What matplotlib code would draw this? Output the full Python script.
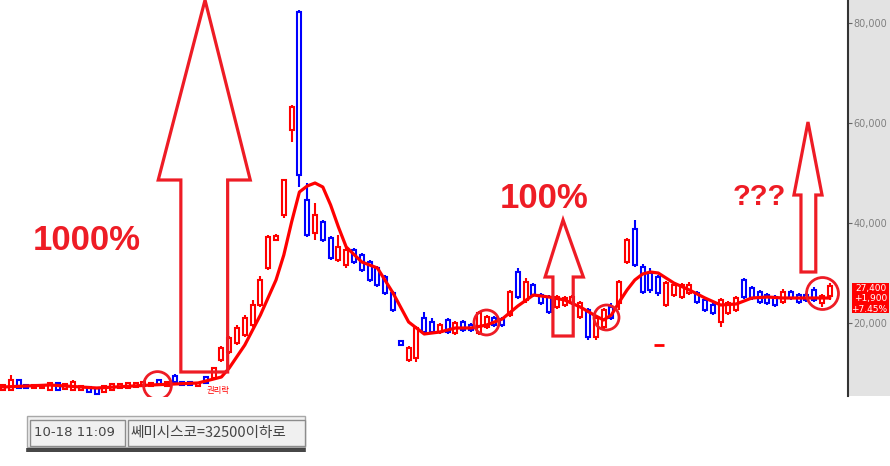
import matplotlib.pyplot as plt
from matplotlib.patches import Polygon, Rectangle

# daily candles (price in won), index = trading day
opens = [6600, 6600, 8600, 7600, 7000, 7000, 6600, 8000, 6800, 6600,
         6600, 7200, 7000, 6200, 6600, 7000, 7000, 7200, 7400, 7400,
         8600, 7400, 9400, 8200, 8200, 7400, 9200, 9000, 12600, 14200,
         16000, 17600, 19600, 23600, 31000, 36600, 41600, 58600, 82200, 44600,
         38000, 40200, 37000, 32600, 31600, 34600, 33600, 32200, 31000, 29200,
         26000, 16400, 12600, 13000, 21000, 20200, 18200, 20600, 18000, 20200,
         19600, 18000, 19200, 21000, 20800, 21600, 30200, 24600, 27600, 25600,
         25200, 23200, 23600, 24000, 21200, 22600, 17200, 19200, 23200, 24000,
         32200, 38800, 31200, 30000, 29200, 23600, 25600, 25200, 26000, 26000,
         24600, 23600, 20200, 22000, 22600, 28600, 27000, 26200, 25600, 25200,
         24200, 26200, 25600, 25600, 26600, 24000, 25500]
closes = [7600, 8600, 7000, 7000, 7600, 7400, 8000, 6600, 7800, 8200,
          7400, 6200, 5800, 7400, 7800, 7800, 8000, 8000, 8200, 8000,
          7800, 8200, 8200, 7600, 7600, 8000, 8000, 11000, 15000, 17000,
          19000, 21000, 23600, 28600, 37200, 37400, 48600, 63200, 49600, 37600,
          41600, 36600, 33000, 35200, 34600, 32200, 30600, 28600, 27600, 26000,
          22600, 15600, 15000, 19000, 18200, 18200, 19600, 18200, 20000, 18600,
          18600, 22000, 21200, 19600, 19600, 26200, 25200, 28200, 25600, 24000,
          22200, 25200, 25000, 25200, 24000, 17200, 21000, 22600, 21000, 28200,
          36600, 31600, 26200, 26600, 26000, 28000, 27600, 27600, 27600, 24200,
          22600, 22000, 24600, 24000, 25000, 25200, 25000, 24200, 24000, 23600,
          26200, 25000, 24200, 24600, 24600, 25500, 27400]
highs = [7800, 9600, 8800, 7800, 7800, 7600, 8200, 8200, 8000, 8600,
         7600, 7400, 7200, 7600, 8000, 8000, 8200, 8200, 8400, 8200,
         8800, 8400, 9800, 8400, 8400, 8200, 9400, 11200, 15400, 17400,
         19600, 21600, 24600, 29400, 37600, 37800, 48800, 63600, 82600, 48000,
         44000, 40600, 37400, 37600, 35000, 35000, 34000, 32600, 31400, 29600,
         26400, 16600, 15400, 19400, 22200, 21000, 20000, 21000, 20400, 20600,
         20000, 22400, 21600, 21400, 21200, 26600, 31000, 29000, 28000, 26000,
         25600, 25600, 25400, 25600, 24400, 23000, 21400, 23000, 24000, 28600,
         37000, 40600, 31800, 31000, 29600, 28400, 28000, 28000, 28200, 26400,
         25000, 24000, 25000, 24400, 25400, 29000, 27400, 26600, 26000, 25600,
         26800, 26600, 26000, 26000, 27200, 25800, 28000]
lows = [6400, 6400, 6800, 6800, 6800, 6800, 6400, 6400, 6600, 6400,
        6400, 6000, 5600, 6000, 6400, 6800, 6800, 7000, 7200, 7200,
        7600, 7200, 8000, 7400, 7400, 7200, 7800, 8800, 12200, 13800,
        15600, 17200, 19200, 23200, 30600, 36400, 41000, 56200, 47200, 37200,
        36600, 36200, 32600, 32200, 31000, 31800, 30200, 28200, 27200, 25600,
        22200, 15400, 12200, 12200, 17800, 17800, 17800, 17800, 17600, 18200,
        18200, 17600, 18800, 19200, 19200, 21200, 24800, 24000, 25200, 23600,
        21800, 22800, 23200, 23600, 20800, 16600, 16600, 18800, 20600, 22600,
        31800, 31200, 25800, 26000, 25400, 23200, 25200, 24800, 25600, 23800,
        22200, 21600, 19200, 21600, 22200, 24800, 24600, 23800, 23600, 23200,
        23800, 24600, 23800, 24200, 24200, 23200, 24600]

# moving average (index, price)
ma_idx = [0, 6, 12, 19, 25, 28, 29, 31, 33, 35, 36, 37, 38, 39, 40, 41, 42, 43, 44,
          46, 48, 50, 52, 54, 56, 58, 60, 62, 64, 66, 68, 70, 72, 74, 76, 77, 78,
          79, 80, 81, 82, 83, 84, 85, 86, 88, 90, 92, 94, 96, 98, 100, 103, 106]
ma_val = [7200, 7600, 7000, 7600, 8000, 9200, 11000, 15600, 21600, 28600, 33600,
          40200, 46200, 47400, 48000, 47200, 43600, 39200, 35200, 32200, 31000,
          26000, 20200, 17800, 18200, 19000, 19000, 19600, 20800, 23400, 25600,
          25200, 24600, 23200, 21400, 20600, 21600, 24200, 26600, 28600, 29800,
          30200, 30000, 29000, 28000, 26600, 25000, 23600, 23800, 25000, 25200,
          25000, 25000, 25000]

yticks = [20000, 40000, 60000, 80000]
last_info = ["27,400", "+1,900", "+7.45%"]
status_time = "10-18 11:09"
status_msg = "쎄미시스코=32500이하로"

RED = "#ff0000"
BLUE = "#0000ff"
MARK = "#ee1c25"

fig = plt.figure(figsize=(8.9, 4.66), dpi=100)
fig.patch.set_facecolor("white")

# grey price scale panel on the right (drawn behind the chart axes)
panel = fig.add_axes([848 / 890, 70 / 466, 42 / 890, 396 / 466], zorder=0)
panel.set_facecolor("#e3e3e3")
panel.set_xticks([])
panel.set_yticks([])
for s in panel.spines.values():
    s.set_visible(False)

ax = fig.add_axes([0, 70 / 466, 848 / 890, 396 / 466], zorder=1)
ax.set_facecolor("white")
ax.set_xlim(-0.385, 108.33)
ax.set_ylim(5400, 84600)

idx = list(range(len(opens)))
cols = [RED if c >= o else BLUE for o, c in zip(opens, closes)]
ax.vlines(idx, lows, highs, colors=cols, linewidth=1.5, zorder=2)
ax.bar(idx, [abs(c - o) for o, c in zip(opens, closes)],
       bottom=[min(o, c) for o, c in zip(opens, closes)],
       width=0.52, color="white", edgecolor=cols, linewidth=1.5, zorder=3)

ax.plot(ma_idx, ma_val, color=RED, linewidth=2.3, solid_joinstyle="round",
        solid_capstyle="round", zorder=4)

# odd little red dash below the candles
ax.hlines(15600, 83.4, 84.8, color=RED, linewidth=2, zorder=3)

ax.text(27.6, 5700, "권리락", color=RED, fontsize=6, ha="center", va="bottom",
        family=["Noto Sans CJK KR", "DejaVu Sans"])

# hand-drawn annotations: hollow arrows, circles, captions
arrows = [
    (25.9, 84600, 19.9, 31.7, 48600, 22.8, 28.8, 10200),
    (71.8, 40600, 69.5, 74.4, 29200, 70.5, 73.1, 17400),
    (103.2, 60200, 101.4, 105.0, 45600, 102.3, 104.2, 30200),
]
for tx, ty, hl, hr, hy, sl, sr, by in arrows:
    pts = [(tx, ty), (hr, hy), (sr, hy), (sr, by), (sl, by), (sl, hy), (hl, hy)]
    ax.add_patch(Polygon(pts, closed=True, fill=False, edgecolor=MARK,
                         linewidth=2.3, joinstyle="miter", zorder=5, clip_on=False))

circ_x = [19.8, 61.9, 77.3, 105.0]
circ_y = [7600, 20200, 21200, 26000]
circ_s = [20, 18, 18, 23]
for cx, cy, cs in zip(circ_x, circ_y, circ_s):
    ax.plot(cx, cy, "o", ms=cs, mfc="none", mec=MARK, mew=2.0, zorder=5)

cap_font = dict(color=MARK, fontweight="bold", family="Liberation Sans",
                ha="left", va="baseline", zorder=6)
ax.text(3.85, 34600, "1000%", fontsize=25, **cap_font)
ax.text(63.7, 43000, "100%", fontsize=25, **cap_font)
ax.text(93.6, 43600, "???", fontsize=21, **cap_font)

# axis styling
for s in ["top", "left", "bottom"]:
    ax.spines[s].set_visible(False)
ax.spines["right"].set_color("#333333")
ax.spines["right"].set_linewidth(1.5)
ax.set_xticks([])
ax.yaxis.tick_right()
ax.set_yticks(yticks)
ax.set_yticklabels([f"{v:,}" for v in yticks])
ax.tick_params(axis="y", which="both", right=True, labelright=True, left=False,
               labelleft=False, direction="out", length=3, width=0.8,
               color="#666666", pad=1, labelsize=7, labelcolor="#808080")

# overlay in pixel coordinates for the price tag and status bar
ov = fig.add_axes([0, 0, 1, 1], zorder=10)
ov.set_xlim(0, 890)
ov.set_ylim(466, 0)
ov.axis("off")

ov.add_patch(Rectangle((852, 283), 37, 30, facecolor=RED, edgecolor="none"))
for k, line in enumerate(last_info):
    ov.text(887, 289 + k * 10, line, color="white", fontsize=6.5,
            ha="right", va="center")

ov.add_patch(Rectangle((27, 416), 278, 31, facecolor="#f0f0f0",
                       edgecolor="#a8a8a8", linewidth=1))
ov.add_patch(Rectangle((29.5, 419.5), 95, 26, facecolor="#f0f0f0",
                       edgecolor="#8c8c8c", linewidth=1))
ov.add_patch(Rectangle((127.5, 419.5), 177, 26, facecolor="#f0f0f0",
                       edgecolor="#8c8c8c", linewidth=1))
ov.text(34, 433, status_time, fontsize=9.5, color="#444444", ha="left", va="center")
ov.text(131, 433, status_msg, fontsize=10.5, color="#444444", ha="left", va="center",
        family=["Noto Sans CJK KR", "DejaVu Sans"])
ov.plot([27, 305], [448.5, 448.5], color="#222222", linewidth=1.2)
ov.plot([27, 305], [451, 451], color="#222222", linewidth=1.2)

fig.savefig("out.png", dpi=100)
